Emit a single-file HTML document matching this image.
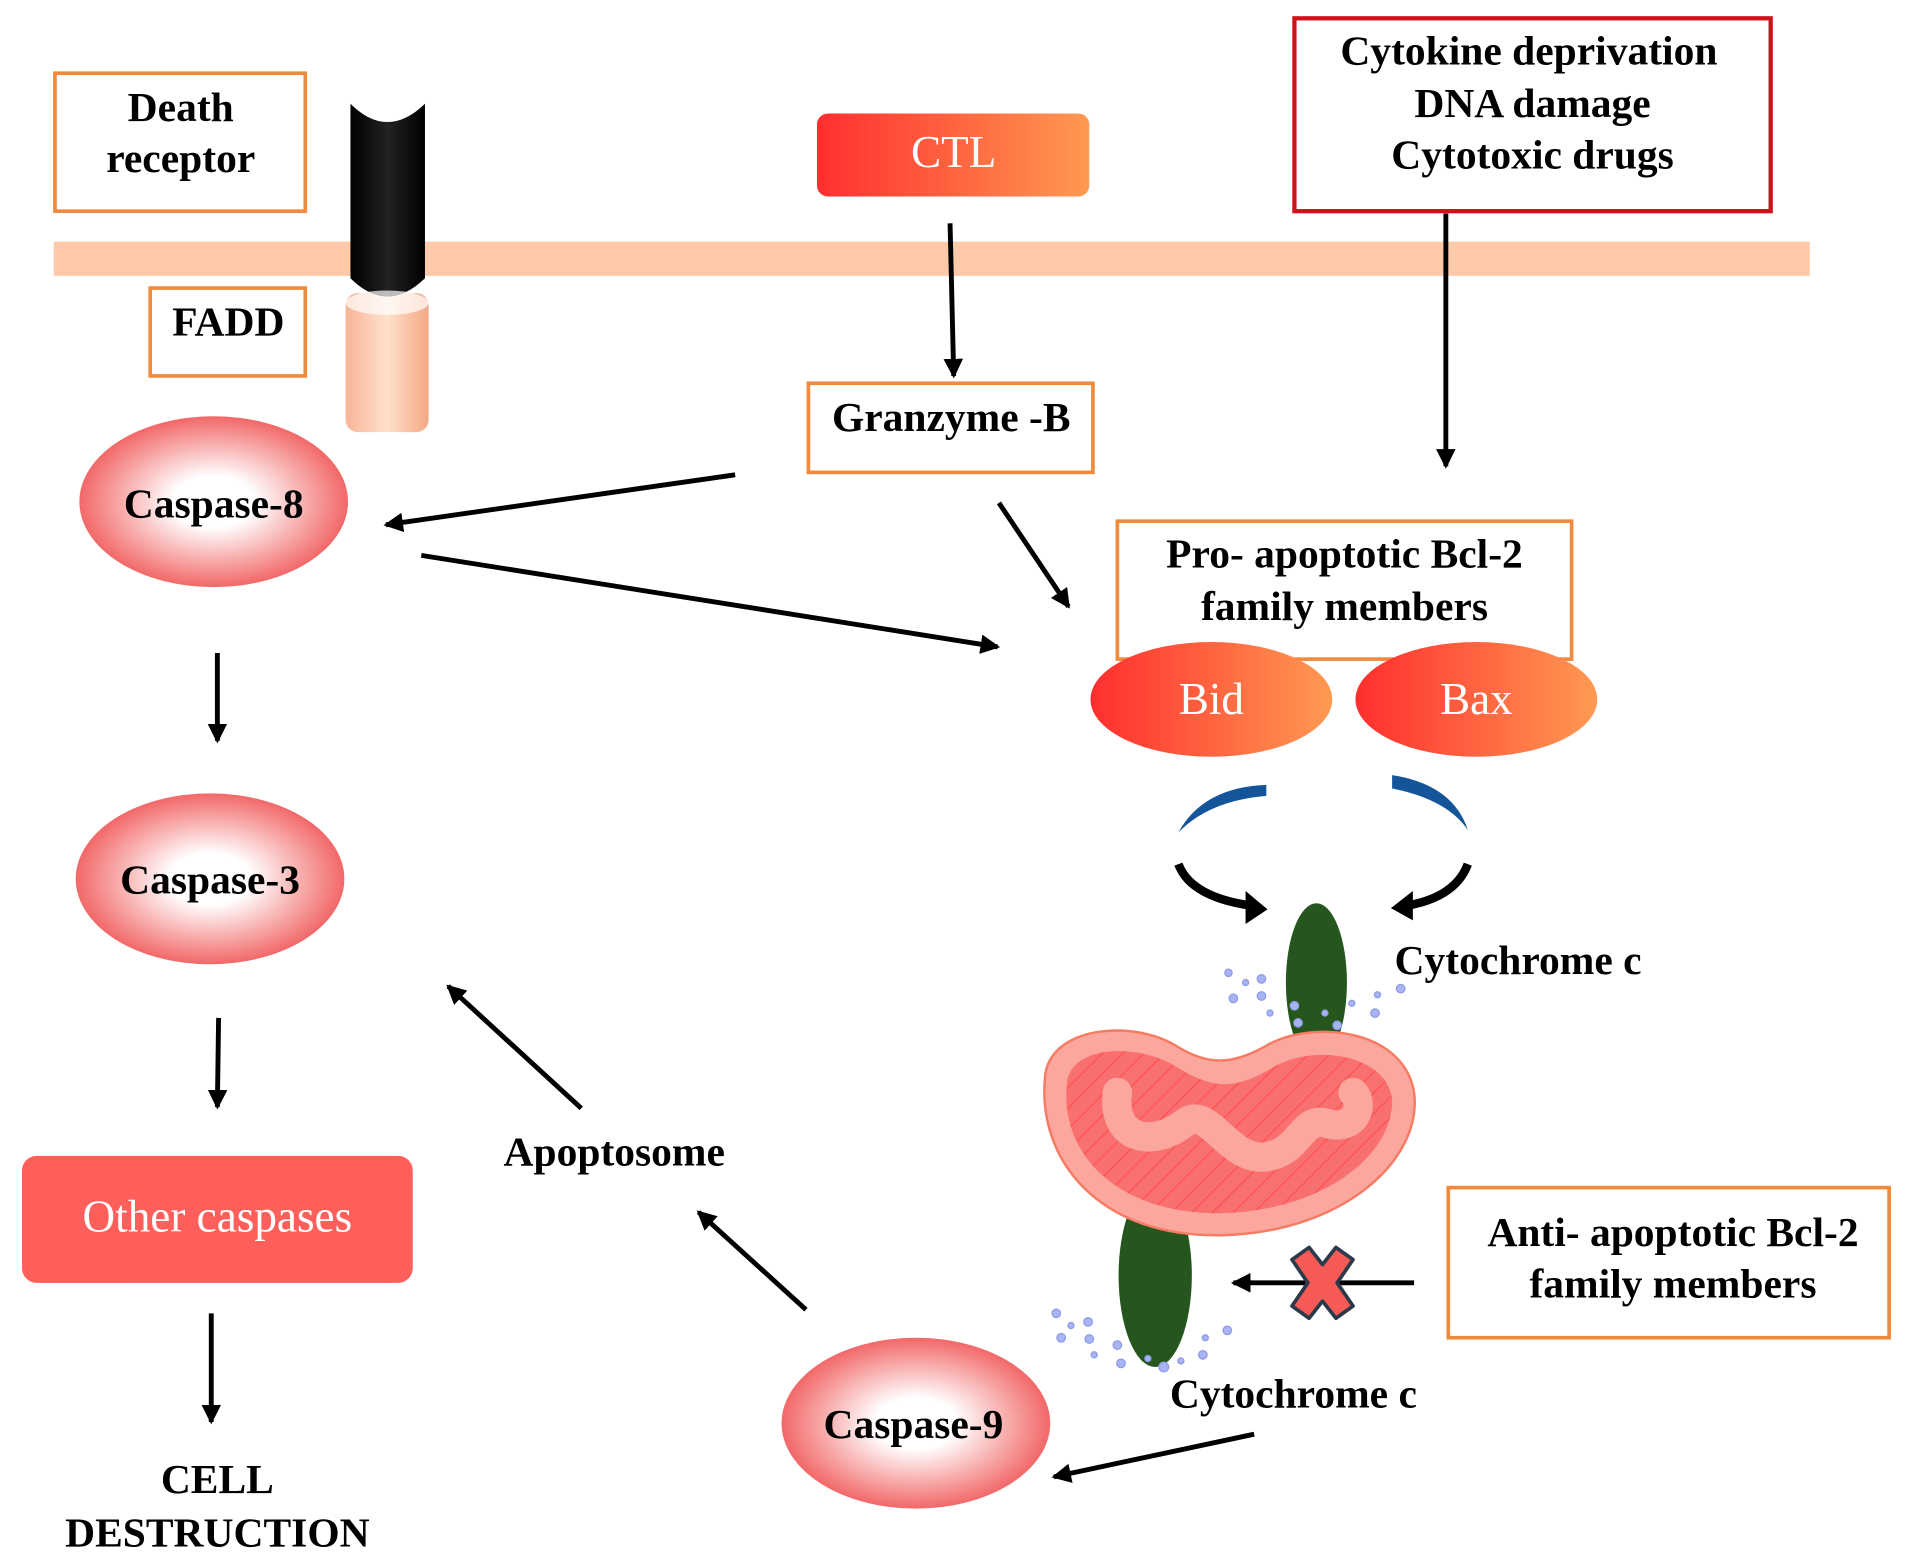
<!DOCTYPE html>
<html><head><meta charset="utf-8"><style>html,body{margin:0;padding:0;background:#fff}svg{display:block}</style></head>
<body>
<svg width="1905" height="1566" viewBox="0 0 1560 1283" preserveAspectRatio="none" xmlns="http://www.w3.org/2000/svg" font-family="Liberation Serif, serif">
<defs>
<radialGradient id="cas" cx="50%" cy="50%" r="50%"><stop offset="0.3" stop-color="#fff"/><stop offset="1" stop-color="#f26868"/></radialGradient>
<linearGradient id="rg" x1="0" x2="1" y1="0" y2="0"><stop offset="0" stop-color="#ff2e2e"/><stop offset="1" stop-color="#ff9a52"/></linearGradient>
<linearGradient id="blk" x1="0" x2="1"><stop offset="0" stop-color="#000"/><stop offset="0.5" stop-color="#222"/><stop offset="1" stop-color="#000"/></linearGradient>
<linearGradient id="pch" x1="0" x2="1"><stop offset="0" stop-color="#f7b596"/><stop offset="0.5" stop-color="#ffe0cc"/><stop offset="1" stop-color="#f4a884"/></linearGradient>
<pattern id="hatch" width="12" height="12" patternUnits="userSpaceOnUse" patternTransform="rotate(45)"><rect width="12" height="12" fill="#f97070"/><line x1="0" y1="0" x2="0" y2="12" stroke="#ff5050" stroke-width="2"/></pattern>
<marker id="ah" markerWidth="20" markerHeight="20" refX="14" refY="8" orient="auto" markerUnits="userSpaceOnUse"><path d="M0,0 L16,8 L0,16 Z"/></marker>
</defs>
<style>.t{font-weight:bold;font-size:34px;fill:#000;text-anchor:middle}.w{font-size:37px;fill:#fff;text-anchor:middle}.ar{stroke:#000;stroke-width:4;fill:none;marker-end:url(#ah)}</style>

<rect x="44" y="198" width="1438" height="28" fill="#fdc9a8"/>

<rect x="283" y="240" width="68" height="114" rx="10" fill="url(#pch)"/>
<path d="M287,85 Q317,115 348,85 L348,228 Q317,258 287,228 Z" fill="url(#blk)"/>
<ellipse cx="317" cy="248" rx="34" ry="10" fill="#fff" opacity="0.7"/>

<rect x="45" y="60" width="205" height="113" fill="none" stroke="#f08a3c" stroke-width="3"/>
<text class="t" x="148" y="99">Death</text>
<text class="t" x="148" y="141">receptor</text>
<rect x="123" y="236" width="127" height="72" fill="none" stroke="#f08a3c" stroke-width="3"/>
<text class="t" x="187" y="275">FADD</text>

<rect x="669" y="93" width="223" height="68" rx="9" fill="url(#rg)"/>
<text class="w" x="781" y="137" font-size="40">CTL</text>

<rect x="1060" y="15" width="390" height="158" fill="none" stroke="#d0101a" stroke-width="3.5"/>
<text class="t" x="1252" y="53">Cytokine deprivation</text>
<text class="t" x="1255" y="96">DNA damage</text>
<text class="t" x="1255" y="138">Cytotoxic drugs</text>

<rect x="662" y="314" width="233" height="73" fill="none" stroke="#f08a3c" stroke-width="3"/>
<text class="t" x="779" y="353">Granzyme -B</text>

<rect x="915" y="427" width="372" height="113" fill="none" stroke="#f08a3c" stroke-width="3"/>
<text class="t" x="1101" y="465">Pro- apoptotic Bcl-2</text>
<text class="t" x="1101" y="508">family members</text>

<ellipse cx="992" cy="573" rx="99" ry="47" fill="url(#rg)"/>
<text class="w" x="992" y="585">Bid</text>
<ellipse cx="1209" cy="573" rx="99" ry="47" fill="url(#rg)"/>
<text class="w" x="1209" y="585">Bax</text>

<rect x="1186" y="973" width="361" height="123" fill="none" stroke="#f08a3c" stroke-width="3"/>
<text class="t" x="1370" y="1021">Anti- apoptotic Bcl-2</text>
<text class="t" x="1370" y="1063">family members</text>

<ellipse cx="175" cy="411" rx="110" ry="70" fill="url(#cas)"/>
<text class="t" x="175" y="424">Caspase-8</text>
<ellipse cx="172" cy="720" rx="110" ry="70" fill="url(#cas)"/>
<text class="t" x="172" y="732">Caspase-3</text>
<ellipse cx="750" cy="1166" rx="110" ry="70" fill="url(#cas)"/>
<text class="t" x="748" y="1178">Caspase-9</text>

<rect x="18" y="947" width="320" height="104" rx="12" fill="#ff5f5a"/>
<text class="w" x="178" y="1009" font-size="38">Other caspases</text>
<text class="t" x="178" y="1223" font-size="42">CELL</text>
<text class="t" x="178" y="1267" font-size="42">DESTRUCTION</text>
<text class="t" x="503" y="955">Apoptosome</text>
<text class="t" x="1142" y="798" style="text-anchor:start">Cytochrome c</text>
<text class="t" x="958" y="1153" style="text-anchor:start">Cytochrome c</text>

<line class="ar" x1="778" y1="183" x2="781" y2="308"/>
<line class="ar" x1="1184" y1="175" x2="1184" y2="382"/>
<line class="ar" x1="602" y1="389" x2="316" y2="430"/>
<line class="ar" x1="818" y1="412" x2="875" y2="497"/>
<line class="ar" x1="345" y1="455" x2="817" y2="530"/>
<line class="ar" x1="178" y1="535" x2="178" y2="607"/>
<line class="ar" x1="179" y1="834" x2="178" y2="907"/>
<line class="ar" x1="173" y1="1076" x2="173" y2="1165"/>
<line class="ar" x1="476" y1="908" x2="367" y2="808"/>
<line class="ar" x1="660" y1="1073" x2="572" y2="993"/>
<line class="ar" x1="1027" y1="1175" x2="863" y2="1210"/>

<path d="M965,682 Q985,645 1037,643 L1037,652 Q990,656 965,682 Z" fill="#14559a"/>
<path d="M1140,635 Q1190,643 1202,680 Q1185,655 1140,646 Z" fill="#14559a"/>
<path d="M965,708 Q975,735 1025,742" stroke="#000" stroke-width="7" fill="none"/>
<path d="M1020,730 L1038,745 L1020,757 Z" fill="#000"/>
<path d="M1202,708 Q1192,735 1152,742" stroke="#000" stroke-width="7" fill="none"/>
<path d="M1157,730 L1139,744 L1157,754 Z" fill="#000"/>

<ellipse cx="1078" cy="805" rx="25" ry="65" fill="#24561e"/>
<ellipse cx="946" cy="1045" rx="30" ry="75" fill="#24561e"/>

<path d="M856,880 C862,840 930,835 965,858 C990,873 1010,873 1040,855 C1080,835 1150,845 1158,895 C1165,950 1100,1010 1000,1012 C900,1014 848,950 856,880 Z" fill="#fba79d" stroke="#f77a62" stroke-width="2"/>
<path d="M874,885 C880,855 935,855 965,875 C995,893 1012,893 1045,873 C1080,855 1135,865 1140,900 C1142,945 1085,992 1000,994 C915,995 866,945 874,885 Z" fill="url(#hatch)"/>
<path d="M915,895 C910,935 945,940 970,920 C990,905 1005,950 1035,948 C1065,945 1065,915 1085,920 C1110,928 1118,905 1108,895" stroke="#fba79d" stroke-width="24" fill="none" stroke-linecap="round" stroke-linejoin="round"/>

<g fill="#a8b4f4" stroke="#8c9ae8" stroke-width="1">
<circle cx="1006" cy="797" r="3"/><circle cx="1020" cy="805" r="2.5"/><circle cx="1033" cy="802" r="3.5"/><circle cx="1010" cy="818" r="3.5"/><circle cx="1033" cy="816" r="3.5"/><circle cx="1040" cy="830" r="2.5"/><circle cx="1060" cy="824" r="3.5"/><circle cx="1063" cy="838" r="3.5"/><circle cx="1085" cy="830" r="2.5"/><circle cx="1095" cy="840" r="3.5"/><circle cx="1107" cy="822" r="2.5"/><circle cx="1126" cy="830" r="3.5"/><circle cx="1128" cy="815" r="2.5"/><circle cx="1147" cy="810" r="3.5"/>
<circle cx="865" cy="1076" r="3.5"/><circle cx="877" cy="1086" r="2.5"/><circle cx="891" cy="1083" r="3.5"/><circle cx="869" cy="1096" r="3.5"/><circle cx="892" cy="1097" r="3.5"/><circle cx="896" cy="1110" r="2.5"/><circle cx="915" cy="1102" r="3.5"/><circle cx="918" cy="1117" r="3.5"/><circle cx="940" cy="1113" r="2.5"/><circle cx="953" cy="1120" r="4"/><circle cx="967" cy="1115" r="2.5"/><circle cx="985" cy="1110" r="3.5"/><circle cx="987" cy="1096" r="2.5"/><circle cx="1005" cy="1090" r="3.5"/>
</g>

<line class="ar" x1="1158" y1="1051" x2="1010" y2="1051"/>
<path d="M1072,1022 L1083,1036 L1094,1022 L1108,1032 L1095,1051 L1108,1070 L1094,1080 L1083,1066 L1072,1080 L1058,1070 L1071,1051 L1058,1032 Z" fill="#f65a56" stroke="#2a3a4a" stroke-width="3" stroke-linejoin="round"/>
</svg>
</body></html>
